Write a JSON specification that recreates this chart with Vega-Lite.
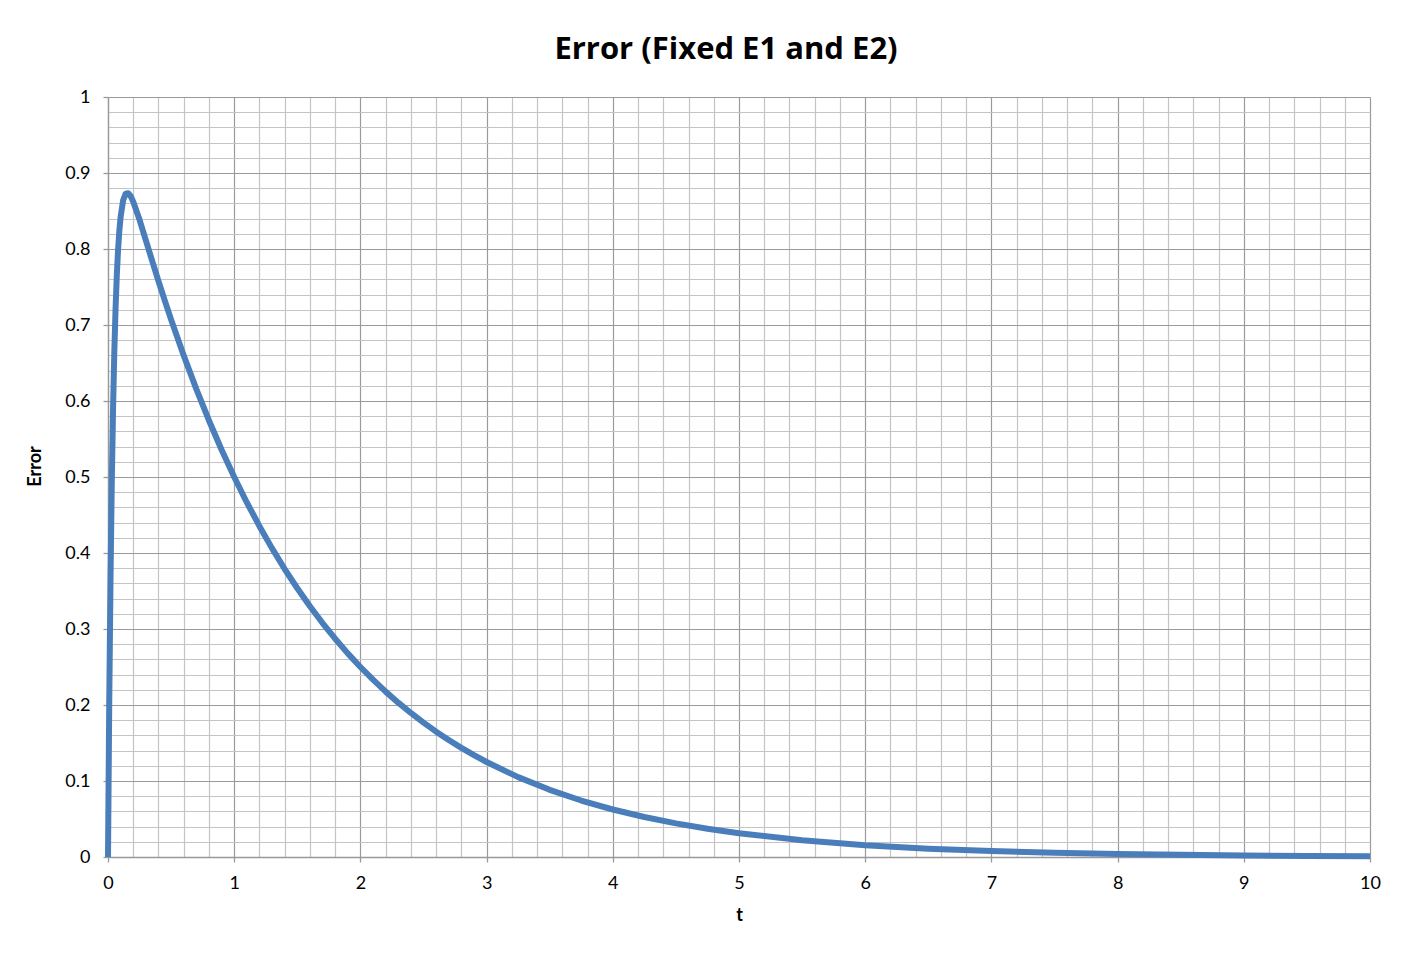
{
  "$schema": "https://vega.github.io/schema/vega-lite/v6.json",
  "width": 1262,
  "height": 760,
  "autosize": "none",
  "padding": {"left": 108, "top": 97, "right": 38, "bottom": 102},
  "background": "white",
  "title": {
    "text": "Error (Fixed E1 and E2)",
    "font": "Open Sans",
    "fontSize": 31,
    "fontWeight": "bold",
    "color": "black",
    "anchor": "middle",
    "offset": 22,
    "dx": -13
  },
  "config": {
    "view": {"stroke": null},
    "axis": {
      "labelFont": "Lato",
      "labelFontSize": 18,
      "labelColor": "black",
      "labelFlush": false,
      "titleFont": "Lato",
      "titleFontSize": 18,
      "titleFontWeight": "bold",
      "titleColor": "black",
      "domainColor": "#999999",
      "domainWidth": 1.3,
      "gridWidth": 1.2,
      "tickSize": 5,
      "tickWidth": 1.3,
      "labelOverlap": false
    }
  },
  "data": {
    "values": [
      {"t": 0, "error": 0},
      {"t": 0.01, "error": 0.2065},
      {"t": 0.02, "error": 0.3675},
      {"t": 0.03, "error": 0.4927},
      {"t": 0.04, "error": 0.5898},
      {"t": 0.05, "error": 0.6648},
      {"t": 0.06, "error": 0.7223},
      {"t": 0.07, "error": 0.7663},
      {"t": 0.08, "error": 0.7995},
      {"t": 0.09, "error": 0.8242},
      {"t": 0.10, "error": 0.8423},
      {"t": 0.12, "error": 0.8641},
      {"t": 0.14, "error": 0.8728},
      {"t": 0.16, "error": 0.8735},
      {"t": 0.18, "error": 0.8694},
      {"t": 0.20, "error": 0.8623},
      {"t": 0.25, "error": 0.8384},
      {"t": 0.30, "error": 0.8115},
      {"t": 0.35, "error": 0.7844},
      {"t": 0.40, "error": 0.7578},
      {"t": 0.45, "error": 0.7320},
      {"t": 0.50, "error": 0.7071},
      {"t": 0.60, "error": 0.6598},
      {"t": 0.70, "error": 0.6156},
      {"t": 0.80, "error": 0.5744},
      {"t": 0.90, "error": 0.5359},
      {"t": 1.0, "error": 0.5},
      {"t": 1.1, "error": 0.4665},
      {"t": 1.2, "error": 0.4353},
      {"t": 1.3, "error": 0.4061},
      {"t": 1.4, "error": 0.3789},
      {"t": 1.5, "error": 0.3536},
      {"t": 1.6, "error": 0.3299},
      {"t": 1.7, "error": 0.3078},
      {"t": 1.8, "error": 0.2872},
      {"t": 1.9, "error": 0.2679},
      {"t": 2.0, "error": 0.25},
      {"t": 2.1, "error": 0.2333},
      {"t": 2.2, "error": 0.2176},
      {"t": 2.3, "error": 0.2031},
      {"t": 2.4, "error": 0.1895},
      {"t": 2.5, "error": 0.1768},
      {"t": 2.6, "error": 0.1649},
      {"t": 2.7, "error": 0.1539},
      {"t": 2.8, "error": 0.1436},
      {"t": 2.9, "error": 0.1340},
      {"t": 3.0, "error": 0.125},
      {"t": 3.25, "error": 0.1051},
      {"t": 3.5, "error": 0.0884},
      {"t": 3.75, "error": 0.0743},
      {"t": 4.0, "error": 0.0625},
      {"t": 4.25, "error": 0.0526},
      {"t": 4.5, "error": 0.0442},
      {"t": 4.75, "error": 0.0372},
      {"t": 5.0, "error": 0.0313},
      {"t": 5.5, "error": 0.0221},
      {"t": 6.0, "error": 0.0156},
      {"t": 6.5, "error": 0.0110},
      {"t": 7.0, "error": 0.0078},
      {"t": 7.5, "error": 0.0055},
      {"t": 8.0, "error": 0.0039},
      {"t": 8.5, "error": 0.0028},
      {"t": 9.0, "error": 0.0020},
      {"t": 9.5, "error": 0.0014},
      {"t": 10.0, "error": 0.0010}
    ]
  },
  "mark": {"type": "line", "color": "#4a7ebb", "strokeWidth": 6, "strokeJoin": "round", "strokeCap": "butt"},
  "encoding": {
    "x": {
      "field": "t",
      "type": "quantitative",
      "scale": {"domain": [0, 10], "nice": false, "zero": false},
      "axis": {
        "title": "t",
        "titlePadding": 14,
        "labelPadding": 12,
        "values": [0,0.2,0.4,0.6,0.8,1,1.2,1.4,1.6,1.8,2,2.2,2.4,2.6,2.8,3,3.2,3.4,3.6,3.8,4,4.2,4.4,4.6,4.8,5,5.2,5.4,5.6,5.8,6,6.2,6.4,6.6,6.8,7,7.2,7.4,7.6,7.8,8,8.2,8.4,8.6,8.8,9,9.2,9.4,9.6,9.8,10],
        "labelExpr": "abs(datum.value - round(datum.value)) < 1e-6 ? format(datum.value, 'd') : ''",
        "grid": true,
        "gridColor": {"condition": {"test": "abs(datum.value - round(datum.value)) < 1e-6", "value": "#9a9a9a"}, "value": "#c4c4c4"},
        "tickColor": {"condition": {"test": "abs(datum.value - round(datum.value)) < 1e-6", "value": "#9a9a9a"}, "value": "transparent"}
      }
    },
    "y": {
      "field": "error",
      "type": "quantitative",
      "scale": {"domain": [0, 1], "nice": false},
      "axis": {
        "title": "Error",
        "titlePadding": 20,
        "titleY": 369,
        "labelPadding": 13,
        "values": [0,0.02,0.04,0.06,0.08,0.1,0.12,0.14,0.16,0.18,0.2,0.22,0.24,0.26,0.28,0.3,0.32,0.34,0.36,0.38,0.4,0.42,0.44,0.46,0.48,0.5,0.52,0.54,0.56,0.58,0.6,0.62,0.64,0.66,0.68,0.7,0.72,0.74,0.76,0.78,0.8,0.82,0.84,0.86,0.88,0.9,0.92,0.94,0.96,0.98,1],
        "labelExpr": "abs(datum.value * 10 - round(datum.value * 10)) < 1e-6 ? format(datum.value, '.1~f') : ''",
        "grid": true,
        "gridColor": {"condition": {"test": "abs(datum.value * 10 - round(datum.value * 10)) < 1e-6", "value": "#9a9a9a"}, "value": "#c4c4c4"},
        "tickColor": {"condition": {"test": "abs(datum.value * 10 - round(datum.value * 10)) < 1e-6", "value": "#9a9a9a"}, "value": "transparent"}
      }
    }
  }
}
